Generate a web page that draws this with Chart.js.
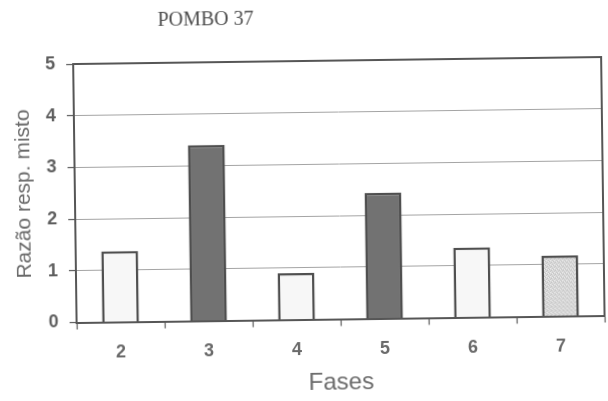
<!DOCTYPE html>
<html>
<head>
<meta charset="utf-8">
<script src="https://cdn.jsdelivr.net/npm/chart.js@4/dist/chart.umd.min.js"></script>
<style>
  html, body { margin: 0; padding: 0; background: #ffffff; }
  #wrap {
    width: 608px; height: 401px;
    transform: rotate(-0.76deg);
    transform-origin: 304px 200.5px;
    filter: blur(0.35px);
  }
  canvas { display: block; }
</style>
</head>
<body>
<div id="wrap"><canvas id="c" width="608" height="401"></canvas></div>
<script>
// Phases and mixed-response ratio for pigeon 37
const chartTitle = 'POMBO 37';
const fases = ['2', '3', '4', '5', '6', '7'];
const razao = [1.37, 3.40, 0.90, 2.43, 1.35, 1.17];
const yMin = 0, yMax = 5, yStep = 1;

// Stippled light-grey fill for the last phase
function stipple() {
  const p = document.createElement('canvas');
  p.width = 4; p.height = 4;
  const g = p.getContext('2d');
  g.fillStyle = '#dcdcdc';
  g.fillRect(0, 0, 4, 4);
  g.fillStyle = '#bdbdbd';
  g.fillRect(0, 0, 1, 1);
  g.fillRect(2, 1, 1, 1);
  g.fillRect(1, 2, 1, 1);
  g.fillRect(3, 3, 1, 1);
  g.fillStyle = '#efefef';
  g.fillRect(3, 0, 1, 1);
  g.fillRect(1, 3, 1, 1);
  return g.createPattern(p, 'repeat');
}

const ctx = document.getElementById('c').getContext('2d');
const barFills = ['#f7f7f7', '#727272', '#f7f7f7', '#727272', '#f7f7f7', stipple()];

// Title and outer frame of the plot area
const extras = {
  id: 'extras',
  afterDraw(chart) {
    const c = chart.ctx, a = chart.chartArea;
    c.save();
    c.strokeStyle = '#565656';
    c.lineWidth = 2;
    c.beginPath();
    c.moveTo(a.left, a.top);
    c.lineTo(a.right, a.top);
    c.lineTo(a.right, a.bottom);
    c.stroke();
    c.fillStyle = '#4e4e4e';
    c.font = '20px "Liberation Serif", "Times New Roman", serif';
    c.textAlign = 'center';
    c.textBaseline = 'middle';
    c.fillText(chartTitle, 208, 19);
    c.restore();
  }
};

const tickFont = { family: '"Liberation Sans", Arial, sans-serif', size: 18, weight: 'bold' };

new Chart(ctx, {
  type: 'bar',
  data: {
    labels: fases,
    datasets: [{
      data: razao,
      backgroundColor: barFills,
      borderColor: '#4f4f4f',
      borderWidth: 2.5,
      borderSkipped: 'start',
      barPercentage: 0.42,
      categoryPercentage: 1.0
    }]
  },
  options: {
    responsive: false,
    animation: false,
    events: [],
    layout: { padding: { left: 0, top: 61, right: 5, bottom: 0 } },
    plugins: {
      legend: { display: false },
      tooltip: { enabled: false },
      title: { display: false }
    },
    scales: {
      x: {
        afterFit(s) { s.height = 81.5; },
        grid: {
          offset: true,
          drawOnChartArea: false,
          drawTicks: true,
          tickLength: 7,
          tickColor: '#5a5a5a',
          tickWidth: 1.2
        },
        border: { display: true, color: '#565656', width: 2 },
        ticks: {
          color: '#6a6a6a',
          padding: 13,
          font: tickFont
        },
        title: {
          display: true,
          text: 'Fases',
          color: '#6a6a6a',
          font: { family: '"Liberation Sans", Arial, sans-serif', size: 24 },
          padding: { top: 0, bottom: 3 }
        }
      },
      y: {
        min: yMin,
        max: yMax,
        afterFit(s) { s.width = 75; },
        grid: {
          color: '#a4a4a4',
          lineWidth: 1,
          drawTicks: true,
          tickLength: 7,
          tickColor: '#5a5a5a',
          tickWidth: 1.2
        },
        border: { display: true, color: '#565656', width: 2 },
        ticks: {
          stepSize: yStep,
          color: '#5e5e5e',
          padding: 11,
          font: tickFont
        },
        title: {
          display: true,
          text: 'Razão resp. misto',
          color: '#6a6a6a',
          font: { family: '"Liberation Sans", Arial, sans-serif', size: 21 },
          padding: { top: 12, bottom: 0 }
        }
      }
    }
  },
  plugins: [extras]
});
</script>
</body>
</html>
